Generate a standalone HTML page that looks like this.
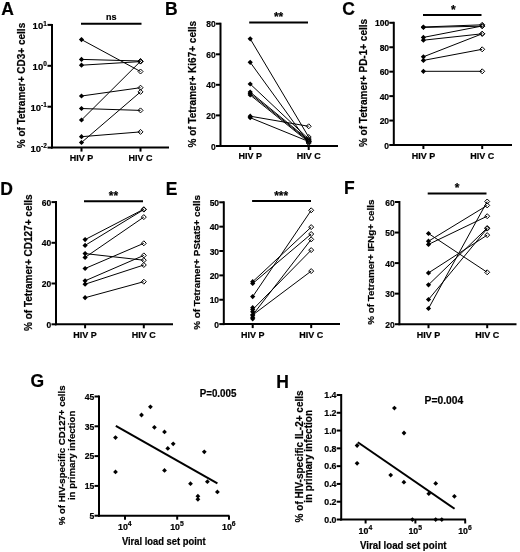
<!DOCTYPE html>
<html><head><meta charset="utf-8"><style>
html,body{margin:0;padding:0;background:#fff;width:520px;height:552px;overflow:hidden}
svg{display:block}
text{font-family:"Liberation Sans", sans-serif;fill:#000;stroke:#000;stroke-width:0.2px}
</style></head><body>
<svg width="520" height="552" viewBox="0 0 520 552" font-family='"Liberation Sans", sans-serif'>
<defs><filter id="bl" filterUnits="userSpaceOnUse" x="0" y="0" width="520" height="552"><feGaussianBlur stdDeviation="0.35"/></filter></defs>
<rect width="520" height="552" fill="#fff"/>
<g filter="url(#bl)">
<line x1="52" y1="23.9" x2="52" y2="148.6" stroke="#000" stroke-width="2" stroke-linecap="butt"/>
<line x1="51" y1="147.6" x2="169" y2="147.6" stroke="#000" stroke-width="2" stroke-linecap="butt"/>
<line x1="47.5" y1="24.9" x2="52" y2="24.9" stroke="#000" stroke-width="2" stroke-linecap="butt"/>
<text x="46.8" y="28.9" font-size="9.5" text-anchor="end" font-weight="bold">10<tspan font-size="6.5" dy="-3.4">1</tspan></text>
<line x1="47.5" y1="65.8" x2="52" y2="65.8" stroke="#000" stroke-width="2" stroke-linecap="butt"/>
<text x="46.8" y="69.8" font-size="9.5" text-anchor="end" font-weight="bold">10<tspan font-size="6.5" dy="-3.4">0</tspan></text>
<line x1="47.5" y1="106.7" x2="52" y2="106.7" stroke="#000" stroke-width="2" stroke-linecap="butt"/>
<text x="46.8" y="110.7" font-size="9.5" text-anchor="end" font-weight="bold">10<tspan font-size="6.5" dy="-3.4">-1</tspan></text>
<line x1="47.5" y1="147.6" x2="52" y2="147.6" stroke="#000" stroke-width="2" stroke-linecap="butt"/>
<text x="46.8" y="151.6" font-size="9.5" text-anchor="end" font-weight="bold">10<tspan font-size="6.5" dy="-3.4">-2</tspan></text>
<line x1="81.5" y1="147.6" x2="81.5" y2="151.6" stroke="#000" stroke-width="2" stroke-linecap="butt"/>
<line x1="140.5" y1="147.6" x2="140.5" y2="151.6" stroke="#000" stroke-width="2" stroke-linecap="butt"/>
<text transform="translate(81.5 160.8) scale(1 1.1)" x="0" y="0" font-size="9" text-anchor="middle" font-weight="bold" >HIV P</text>
<text transform="translate(140.5 160.8) scale(1 1.1)" x="0" y="0" font-size="9" text-anchor="middle" font-weight="bold" >HIV C</text>
<line x1="81" y1="23.8" x2="141.5" y2="23.8" stroke="#000" stroke-width="2" stroke-linecap="butt"/>
<text x="111.25" y="19.8" font-size="9" text-anchor="middle" font-weight="bold" >ns</text>
<line x1="81.5" y1="39.6" x2="140.5" y2="71.5" stroke="#000" stroke-width="1" stroke-linecap="butt"/>
<line x1="81.5" y1="59.4" x2="140.5" y2="61.0" stroke="#000" stroke-width="1" stroke-linecap="butt"/>
<line x1="81.5" y1="65.2" x2="140.5" y2="61.6" stroke="#000" stroke-width="1" stroke-linecap="butt"/>
<line x1="81.5" y1="96.0" x2="140.5" y2="87.7" stroke="#000" stroke-width="1" stroke-linecap="butt"/>
<line x1="81.5" y1="108.5" x2="140.5" y2="110.4" stroke="#000" stroke-width="1" stroke-linecap="butt"/>
<line x1="81.5" y1="120.0" x2="140.5" y2="61.3" stroke="#000" stroke-width="1" stroke-linecap="butt"/>
<line x1="81.5" y1="136.7" x2="140.5" y2="131.9" stroke="#000" stroke-width="1" stroke-linecap="butt"/>
<line x1="81.5" y1="142.5" x2="140.5" y2="91.9" stroke="#000" stroke-width="1" stroke-linecap="butt"/>
<polygon points="140.5,69.0 143.0,71.5 140.5,74.0 138.0,71.5" fill="none" stroke="#000" stroke-width="1.0"/>
<polygon points="140.5,58.5 143.0,61.0 140.5,63.5 138.0,61.0" fill="none" stroke="#000" stroke-width="1.0"/>
<polygon points="140.5,59.1 143.0,61.6 140.5,64.1 138.0,61.6" fill="none" stroke="#000" stroke-width="1.0"/>
<polygon points="140.5,85.2 143.0,87.7 140.5,90.2 138.0,87.7" fill="none" stroke="#000" stroke-width="1.0"/>
<polygon points="140.5,107.9 143.0,110.4 140.5,112.9 138.0,110.4" fill="none" stroke="#000" stroke-width="1.0"/>
<polygon points="140.5,58.8 143.0,61.3 140.5,63.8 138.0,61.3" fill="none" stroke="#000" stroke-width="1.0"/>
<polygon points="140.5,129.4 143.0,131.9 140.5,134.4 138.0,131.9" fill="none" stroke="#000" stroke-width="1.0"/>
<polygon points="140.5,89.4 143.0,91.9 140.5,94.4 138.0,91.9" fill="none" stroke="#000" stroke-width="1.0"/>
<polygon points="81.5,37.0 84.1,39.6 81.5,42.2 78.9,39.6" fill="#000"/>
<polygon points="81.5,56.8 84.1,59.4 81.5,62.0 78.9,59.4" fill="#000"/>
<polygon points="81.5,62.6 84.1,65.2 81.5,67.8 78.9,65.2" fill="#000"/>
<polygon points="81.5,93.4 84.1,96.0 81.5,98.6 78.9,96.0" fill="#000"/>
<polygon points="81.5,105.9 84.1,108.5 81.5,111.1 78.9,108.5" fill="#000"/>
<polygon points="81.5,117.4 84.1,120.0 81.5,122.6 78.9,120.0" fill="#000"/>
<polygon points="81.5,134.1 84.1,136.7 81.5,139.29999999999998 78.9,136.7" fill="#000"/>
<polygon points="81.5,139.9 84.1,142.5 81.5,145.1 78.9,142.5" fill="#000"/>
<text transform="translate(24.6,85.5) rotate(-90)" x="0" y="0" font-size="10.0" text-anchor="middle" font-weight="bold">% of Tetramer+ CD3+ cells</text>
<line x1="220.5" y1="22.7" x2="220.5" y2="147" stroke="#000" stroke-width="2" stroke-linecap="butt"/>
<line x1="219.5" y1="146" x2="338" y2="146" stroke="#000" stroke-width="2" stroke-linecap="butt"/>
<line x1="216.0" y1="23.7" x2="220.5" y2="23.7" stroke="#000" stroke-width="2" stroke-linecap="butt"/>
<text transform="translate(215.8 27.2) scale(1 1.08)" x="0" y="0" font-size="8.5" text-anchor="end" font-weight="bold" >80</text>
<line x1="216.0" y1="54.3" x2="220.5" y2="54.3" stroke="#000" stroke-width="2" stroke-linecap="butt"/>
<text transform="translate(215.8 57.8) scale(1 1.08)" x="0" y="0" font-size="8.5" text-anchor="end" font-weight="bold" >60</text>
<line x1="216.0" y1="84.8" x2="220.5" y2="84.8" stroke="#000" stroke-width="2" stroke-linecap="butt"/>
<text transform="translate(215.8 88.3) scale(1 1.08)" x="0" y="0" font-size="8.5" text-anchor="end" font-weight="bold" >40</text>
<line x1="216.0" y1="115.4" x2="220.5" y2="115.4" stroke="#000" stroke-width="2" stroke-linecap="butt"/>
<text transform="translate(215.8 118.9) scale(1 1.08)" x="0" y="0" font-size="8.5" text-anchor="end" font-weight="bold" >20</text>
<line x1="216.0" y1="146" x2="220.5" y2="146" stroke="#000" stroke-width="2" stroke-linecap="butt"/>
<text transform="translate(215.8 149.5) scale(1 1.08)" x="0" y="0" font-size="8.5" text-anchor="end" font-weight="bold" >0</text>
<line x1="250.2" y1="146" x2="250.2" y2="150" stroke="#000" stroke-width="2" stroke-linecap="butt"/>
<line x1="308.7" y1="146" x2="308.7" y2="150" stroke="#000" stroke-width="2" stroke-linecap="butt"/>
<text transform="translate(250.2 159.3) scale(1 1.1)" x="0" y="0" font-size="9" text-anchor="middle" font-weight="bold" >HIV P</text>
<text transform="translate(308.7 159.3) scale(1 1.1)" x="0" y="0" font-size="9" text-anchor="middle" font-weight="bold" >HIV C</text>
<line x1="249.2" y1="22.4" x2="308" y2="22.4" stroke="#000" stroke-width="2" stroke-linecap="butt"/>
<text x="278.6" y="20.7" font-size="12" text-anchor="middle" font-weight="bold" >**</text>
<line x1="250.2" y1="38.8" x2="308.7" y2="137" stroke="#000" stroke-width="1" stroke-linecap="butt"/>
<line x1="250.2" y1="62.3" x2="308.7" y2="143" stroke="#000" stroke-width="1" stroke-linecap="butt"/>
<line x1="250.2" y1="84.0" x2="308.7" y2="139" stroke="#000" stroke-width="1" stroke-linecap="butt"/>
<line x1="250.2" y1="92.1" x2="308.7" y2="140" stroke="#000" stroke-width="1" stroke-linecap="butt"/>
<line x1="250.2" y1="93.5" x2="308.7" y2="141" stroke="#000" stroke-width="1" stroke-linecap="butt"/>
<line x1="250.2" y1="95" x2="308.7" y2="142" stroke="#000" stroke-width="1" stroke-linecap="butt"/>
<line x1="250.2" y1="116.2" x2="308.7" y2="126.3" stroke="#000" stroke-width="1" stroke-linecap="butt"/>
<line x1="250.2" y1="117.7" x2="308.7" y2="141.5" stroke="#000" stroke-width="1" stroke-linecap="butt"/>
<polygon points="308.7,134.5 311.2,137 308.7,139.5 306.2,137" fill="none" stroke="#000" stroke-width="1.0"/>
<polygon points="308.7,140.5 311.2,143 308.7,145.5 306.2,143" fill="none" stroke="#000" stroke-width="1.0"/>
<polygon points="308.7,136.5 311.2,139 308.7,141.5 306.2,139" fill="none" stroke="#000" stroke-width="1.0"/>
<polygon points="308.7,137.5 311.2,140 308.7,142.5 306.2,140" fill="none" stroke="#000" stroke-width="1.0"/>
<polygon points="308.7,138.5 311.2,141 308.7,143.5 306.2,141" fill="none" stroke="#000" stroke-width="1.0"/>
<polygon points="308.7,139.5 311.2,142 308.7,144.5 306.2,142" fill="none" stroke="#000" stroke-width="1.0"/>
<polygon points="308.7,123.8 311.2,126.3 308.7,128.8 306.2,126.3" fill="none" stroke="#000" stroke-width="1.0"/>
<polygon points="308.7,139.0 311.2,141.5 308.7,144.0 306.2,141.5" fill="none" stroke="#000" stroke-width="1.0"/>
<polygon points="250.2,36.199999999999996 252.79999999999998,38.8 250.2,41.4 247.6,38.8" fill="#000"/>
<polygon points="250.2,59.699999999999996 252.79999999999998,62.3 250.2,64.89999999999999 247.6,62.3" fill="#000"/>
<polygon points="250.2,81.4 252.79999999999998,84.0 250.2,86.6 247.6,84.0" fill="#000"/>
<polygon points="250.2,89.5 252.79999999999998,92.1 250.2,94.69999999999999 247.6,92.1" fill="#000"/>
<polygon points="250.2,90.9 252.79999999999998,93.5 250.2,96.1 247.6,93.5" fill="#000"/>
<polygon points="250.2,92.4 252.79999999999998,95 250.2,97.6 247.6,95" fill="#000"/>
<polygon points="250.2,113.60000000000001 252.79999999999998,116.2 250.2,118.8 247.6,116.2" fill="#000"/>
<polygon points="250.2,115.10000000000001 252.79999999999998,117.7 250.2,120.3 247.6,117.7" fill="#000"/>
<text transform="translate(195.8,84.2) rotate(-90)" x="0" y="0" font-size="10.0" text-anchor="middle" font-weight="bold">% of Tetramer+ Ki67+ cells</text>
<line x1="393.8" y1="21.8" x2="393.8" y2="146" stroke="#000" stroke-width="2" stroke-linecap="butt"/>
<line x1="392.8" y1="145" x2="512" y2="145" stroke="#000" stroke-width="2" stroke-linecap="butt"/>
<line x1="389.3" y1="22.8" x2="393.8" y2="22.8" stroke="#000" stroke-width="2" stroke-linecap="butt"/>
<text transform="translate(389.1 26.3) scale(1 1.08)" x="0" y="0" font-size="8.5" text-anchor="end" font-weight="bold" >100</text>
<line x1="389.3" y1="47.24" x2="393.8" y2="47.24" stroke="#000" stroke-width="2" stroke-linecap="butt"/>
<text transform="translate(389.1 50.74) scale(1 1.08)" x="0" y="0" font-size="8.5" text-anchor="end" font-weight="bold" >80</text>
<line x1="389.3" y1="71.68" x2="393.8" y2="71.68" stroke="#000" stroke-width="2" stroke-linecap="butt"/>
<text transform="translate(389.1 75.18) scale(1 1.08)" x="0" y="0" font-size="8.5" text-anchor="end" font-weight="bold" >60</text>
<line x1="389.3" y1="96.12" x2="393.8" y2="96.12" stroke="#000" stroke-width="2" stroke-linecap="butt"/>
<text transform="translate(389.1 99.62) scale(1 1.08)" x="0" y="0" font-size="8.5" text-anchor="end" font-weight="bold" >40</text>
<line x1="389.3" y1="120.56" x2="393.8" y2="120.56" stroke="#000" stroke-width="2" stroke-linecap="butt"/>
<text transform="translate(389.1 124.06) scale(1 1.08)" x="0" y="0" font-size="8.5" text-anchor="end" font-weight="bold" >20</text>
<line x1="389.3" y1="145.0" x2="393.8" y2="145.0" stroke="#000" stroke-width="2" stroke-linecap="butt"/>
<text transform="translate(389.1 148.5) scale(1 1.08)" x="0" y="0" font-size="8.5" text-anchor="end" font-weight="bold" >0</text>
<line x1="423.4" y1="145" x2="423.4" y2="149" stroke="#000" stroke-width="2" stroke-linecap="butt"/>
<line x1="482.2" y1="145" x2="482.2" y2="149" stroke="#000" stroke-width="2" stroke-linecap="butt"/>
<text transform="translate(423.4 158.8) scale(1 1.1)" x="0" y="0" font-size="9" text-anchor="middle" font-weight="bold" >HIV P</text>
<text transform="translate(482.2 158.8) scale(1 1.1)" x="0" y="0" font-size="9" text-anchor="middle" font-weight="bold" >HIV C</text>
<line x1="423" y1="15" x2="481.5" y2="15" stroke="#000" stroke-width="2" stroke-linecap="butt"/>
<text x="453.4" y="14.2" font-size="12" text-anchor="middle" font-weight="bold" >*</text>
<line x1="423.4" y1="27" x2="482.2" y2="24.8" stroke="#000" stroke-width="1" stroke-linecap="butt"/>
<line x1="423.4" y1="27.4" x2="482.2" y2="26.2" stroke="#000" stroke-width="1" stroke-linecap="butt"/>
<line x1="423.4" y1="37.4" x2="482.2" y2="26" stroke="#000" stroke-width="1" stroke-linecap="butt"/>
<line x1="423.4" y1="40.2" x2="482.2" y2="33.8" stroke="#000" stroke-width="1" stroke-linecap="butt"/>
<line x1="423.4" y1="56.8" x2="482.2" y2="33.8" stroke="#000" stroke-width="1" stroke-linecap="butt"/>
<line x1="423.4" y1="60.4" x2="482.2" y2="49.3" stroke="#000" stroke-width="1" stroke-linecap="butt"/>
<line x1="423.4" y1="71.3" x2="482.2" y2="71.3" stroke="#000" stroke-width="1" stroke-linecap="butt"/>
<polygon points="482.2,22.3 484.7,24.8 482.2,27.3 479.7,24.8" fill="none" stroke="#000" stroke-width="1.0"/>
<polygon points="482.2,23.7 484.7,26.2 482.2,28.7 479.7,26.2" fill="none" stroke="#000" stroke-width="1.0"/>
<polygon points="482.2,23.5 484.7,26 482.2,28.5 479.7,26" fill="none" stroke="#000" stroke-width="1.0"/>
<polygon points="482.2,31.299999999999997 484.7,33.8 482.2,36.3 479.7,33.8" fill="none" stroke="#000" stroke-width="1.0"/>
<polygon points="482.2,31.299999999999997 484.7,33.8 482.2,36.3 479.7,33.8" fill="none" stroke="#000" stroke-width="1.0"/>
<polygon points="482.2,46.8 484.7,49.3 482.2,51.8 479.7,49.3" fill="none" stroke="#000" stroke-width="1.0"/>
<polygon points="482.2,68.8 484.7,71.3 482.2,73.8 479.7,71.3" fill="none" stroke="#000" stroke-width="1.0"/>
<polygon points="423.4,24.4 426.0,27 423.4,29.6 420.79999999999995,27" fill="#000"/>
<polygon points="423.4,24.799999999999997 426.0,27.4 423.4,30.0 420.79999999999995,27.4" fill="#000"/>
<polygon points="423.4,34.8 426.0,37.4 423.4,40.0 420.79999999999995,37.4" fill="#000"/>
<polygon points="423.4,37.6 426.0,40.2 423.4,42.800000000000004 420.79999999999995,40.2" fill="#000"/>
<polygon points="423.4,54.199999999999996 426.0,56.8 423.4,59.4 420.79999999999995,56.8" fill="#000"/>
<polygon points="423.4,57.8 426.0,60.4 423.4,63.0 420.79999999999995,60.4" fill="#000"/>
<polygon points="423.4,68.7 426.0,71.3 423.4,73.89999999999999 420.79999999999995,71.3" fill="#000"/>
<text transform="translate(367.1,83.0) rotate(-90)" x="0" y="0" font-size="10.0" text-anchor="middle" font-weight="bold">% of Tetramer+ PD-1+ cells</text>
<line x1="56" y1="201.1" x2="56" y2="325.3" stroke="#000" stroke-width="2" stroke-linecap="butt"/>
<line x1="55" y1="324.3" x2="173" y2="324.3" stroke="#000" stroke-width="2" stroke-linecap="butt"/>
<line x1="51.5" y1="202.1" x2="56" y2="202.1" stroke="#000" stroke-width="2" stroke-linecap="butt"/>
<text transform="translate(51.3 205.6) scale(1 1.08)" x="0" y="0" font-size="8.5" text-anchor="end" font-weight="bold" >60</text>
<line x1="51.5" y1="242.8" x2="56" y2="242.8" stroke="#000" stroke-width="2" stroke-linecap="butt"/>
<text transform="translate(51.3 246.3) scale(1 1.08)" x="0" y="0" font-size="8.5" text-anchor="end" font-weight="bold" >40</text>
<line x1="51.5" y1="283.5" x2="56" y2="283.5" stroke="#000" stroke-width="2" stroke-linecap="butt"/>
<text transform="translate(51.3 287.0) scale(1 1.08)" x="0" y="0" font-size="8.5" text-anchor="end" font-weight="bold" >20</text>
<line x1="51.5" y1="324.3" x2="56" y2="324.3" stroke="#000" stroke-width="2" stroke-linecap="butt"/>
<text transform="translate(51.3 327.8) scale(1 1.08)" x="0" y="0" font-size="8.5" text-anchor="end" font-weight="bold" >0</text>
<line x1="85.1" y1="324.3" x2="85.1" y2="328.3" stroke="#000" stroke-width="2" stroke-linecap="butt"/>
<line x1="143.8" y1="324.3" x2="143.8" y2="328.3" stroke="#000" stroke-width="2" stroke-linecap="butt"/>
<text transform="translate(85.1 337.5) scale(1 1.1)" x="0" y="0" font-size="9" text-anchor="middle" font-weight="bold" >HIV P</text>
<text transform="translate(143.8 337.5) scale(1 1.1)" x="0" y="0" font-size="9" text-anchor="middle" font-weight="bold" >HIV C</text>
<line x1="84" y1="201.2" x2="143" y2="201.2" stroke="#000" stroke-width="2" stroke-linecap="butt"/>
<text x="113.5" y="200.0" font-size="12" text-anchor="middle" font-weight="bold" >**</text>
<line x1="85.1" y1="239.6" x2="143.8" y2="209.2" stroke="#000" stroke-width="1" stroke-linecap="butt"/>
<line x1="85.1" y1="245.4" x2="143.8" y2="209.6" stroke="#000" stroke-width="1" stroke-linecap="butt"/>
<line x1="85.1" y1="253.6" x2="143.8" y2="260.2" stroke="#000" stroke-width="1" stroke-linecap="butt"/>
<line x1="85.1" y1="257.4" x2="143.8" y2="217.1" stroke="#000" stroke-width="1" stroke-linecap="butt"/>
<line x1="85.1" y1="268.5" x2="143.8" y2="243.3" stroke="#000" stroke-width="1" stroke-linecap="butt"/>
<line x1="85.1" y1="280.8" x2="143.8" y2="255.4" stroke="#000" stroke-width="1" stroke-linecap="butt"/>
<line x1="85.1" y1="284.2" x2="143.8" y2="265" stroke="#000" stroke-width="1" stroke-linecap="butt"/>
<line x1="85.1" y1="297.7" x2="143.8" y2="281.7" stroke="#000" stroke-width="1" stroke-linecap="butt"/>
<polygon points="143.8,206.7 146.3,209.2 143.8,211.7 141.3,209.2" fill="none" stroke="#000" stroke-width="1.0"/>
<polygon points="143.8,207.1 146.3,209.6 143.8,212.1 141.3,209.6" fill="none" stroke="#000" stroke-width="1.0"/>
<polygon points="143.8,257.7 146.3,260.2 143.8,262.7 141.3,260.2" fill="none" stroke="#000" stroke-width="1.0"/>
<polygon points="143.8,214.6 146.3,217.1 143.8,219.6 141.3,217.1" fill="none" stroke="#000" stroke-width="1.0"/>
<polygon points="143.8,240.8 146.3,243.3 143.8,245.8 141.3,243.3" fill="none" stroke="#000" stroke-width="1.0"/>
<polygon points="143.8,252.9 146.3,255.4 143.8,257.9 141.3,255.4" fill="none" stroke="#000" stroke-width="1.0"/>
<polygon points="143.8,262.5 146.3,265 143.8,267.5 141.3,265" fill="none" stroke="#000" stroke-width="1.0"/>
<polygon points="143.8,279.2 146.3,281.7 143.8,284.2 141.3,281.7" fill="none" stroke="#000" stroke-width="1.0"/>
<polygon points="85.1,237.0 87.69999999999999,239.6 85.1,242.2 82.5,239.6" fill="#000"/>
<polygon points="85.1,242.8 87.69999999999999,245.4 85.1,248.0 82.5,245.4" fill="#000"/>
<polygon points="85.1,251.0 87.69999999999999,253.6 85.1,256.2 82.5,253.6" fill="#000"/>
<polygon points="85.1,254.79999999999998 87.69999999999999,257.4 85.1,260.0 82.5,257.4" fill="#000"/>
<polygon points="85.1,265.9 87.69999999999999,268.5 85.1,271.1 82.5,268.5" fill="#000"/>
<polygon points="85.1,278.2 87.69999999999999,280.8 85.1,283.40000000000003 82.5,280.8" fill="#000"/>
<polygon points="85.1,281.59999999999997 87.69999999999999,284.2 85.1,286.8 82.5,284.2" fill="#000"/>
<polygon points="85.1,295.09999999999997 87.69999999999999,297.7 85.1,300.3 82.5,297.7" fill="#000"/>
<text transform="translate(31.6,262.7) rotate(-90)" x="0" y="0" font-size="10.0" text-anchor="middle" font-weight="bold">% of Tetramer+ CD127+ cells</text>
<line x1="223.8" y1="201.3" x2="223.8" y2="325.1" stroke="#000" stroke-width="2" stroke-linecap="butt"/>
<line x1="222.8" y1="324.1" x2="340" y2="324.1" stroke="#000" stroke-width="2" stroke-linecap="butt"/>
<line x1="219.3" y1="202.3" x2="223.8" y2="202.3" stroke="#000" stroke-width="2" stroke-linecap="butt"/>
<text transform="translate(219.10000000000002 205.8) scale(1 1.08)" x="0" y="0" font-size="8.5" text-anchor="end" font-weight="bold" >50</text>
<line x1="219.3" y1="226.66000000000003" x2="223.8" y2="226.66000000000003" stroke="#000" stroke-width="2" stroke-linecap="butt"/>
<text transform="translate(219.10000000000002 230.16000000000003) scale(1 1.08)" x="0" y="0" font-size="8.5" text-anchor="end" font-weight="bold" >40</text>
<line x1="219.3" y1="251.02" x2="223.8" y2="251.02" stroke="#000" stroke-width="2" stroke-linecap="butt"/>
<text transform="translate(219.10000000000002 254.52) scale(1 1.08)" x="0" y="0" font-size="8.5" text-anchor="end" font-weight="bold" >30</text>
<line x1="219.3" y1="275.38" x2="223.8" y2="275.38" stroke="#000" stroke-width="2" stroke-linecap="butt"/>
<text transform="translate(219.10000000000002 278.88) scale(1 1.08)" x="0" y="0" font-size="8.5" text-anchor="end" font-weight="bold" >20</text>
<line x1="219.3" y1="299.74" x2="223.8" y2="299.74" stroke="#000" stroke-width="2" stroke-linecap="butt"/>
<text transform="translate(219.10000000000002 303.24) scale(1 1.08)" x="0" y="0" font-size="8.5" text-anchor="end" font-weight="bold" >10</text>
<line x1="219.3" y1="324.1" x2="223.8" y2="324.1" stroke="#000" stroke-width="2" stroke-linecap="butt"/>
<text transform="translate(219.10000000000002 327.6) scale(1 1.08)" x="0" y="0" font-size="8.5" text-anchor="end" font-weight="bold" >0</text>
<line x1="252.7" y1="324.1" x2="252.7" y2="328.1" stroke="#000" stroke-width="2" stroke-linecap="butt"/>
<line x1="311.2" y1="324.1" x2="311.2" y2="328.1" stroke="#000" stroke-width="2" stroke-linecap="butt"/>
<text transform="translate(252.7 337.5) scale(1 1.1)" x="0" y="0" font-size="9" text-anchor="middle" font-weight="bold" >HIV P</text>
<text transform="translate(311.2 337.5) scale(1 1.1)" x="0" y="0" font-size="9" text-anchor="middle" font-weight="bold" >HIV C</text>
<line x1="252.1" y1="201.1" x2="311" y2="201.1" stroke="#000" stroke-width="2" stroke-linecap="butt"/>
<text x="281.2" y="199.8" font-size="12" text-anchor="middle" font-weight="bold" >***</text>
<line x1="252.7" y1="281.7" x2="311.2" y2="227.1" stroke="#000" stroke-width="1" stroke-linecap="butt"/>
<line x1="252.7" y1="283.5" x2="311.2" y2="234" stroke="#000" stroke-width="1" stroke-linecap="butt"/>
<line x1="252.7" y1="296.6" x2="311.2" y2="210.3" stroke="#000" stroke-width="1" stroke-linecap="butt"/>
<line x1="252.7" y1="309.6" x2="311.2" y2="250.1" stroke="#000" stroke-width="1" stroke-linecap="butt"/>
<line x1="252.7" y1="315" x2="311.2" y2="239.4" stroke="#000" stroke-width="1" stroke-linecap="butt"/>
<line x1="252.7" y1="315" x2="311.2" y2="271.1" stroke="#000" stroke-width="1" stroke-linecap="butt"/>
<polygon points="311.2,224.6 313.7,227.1 311.2,229.6 308.7,227.1" fill="none" stroke="#000" stroke-width="1.0"/>
<polygon points="311.2,231.5 313.7,234 311.2,236.5 308.7,234" fill="none" stroke="#000" stroke-width="1.0"/>
<polygon points="311.2,207.8 313.7,210.3 311.2,212.8 308.7,210.3" fill="none" stroke="#000" stroke-width="1.0"/>
<polygon points="311.2,247.6 313.7,250.1 311.2,252.6 308.7,250.1" fill="none" stroke="#000" stroke-width="1.0"/>
<polygon points="311.2,236.9 313.7,239.4 311.2,241.9 308.7,239.4" fill="none" stroke="#000" stroke-width="1.0"/>
<polygon points="311.2,268.6 313.7,271.1 311.2,273.6 308.7,271.1" fill="none" stroke="#000" stroke-width="1.0"/>
<polygon points="252.7,279.09999999999997 255.29999999999998,281.7 252.7,284.3 250.1,281.7" fill="#000"/>
<polygon points="252.7,280.9 255.29999999999998,283.5 252.7,286.1 250.1,283.5" fill="#000"/>
<polygon points="252.7,294.0 255.29999999999998,296.6 252.7,299.20000000000005 250.1,296.6" fill="#000"/>
<polygon points="252.7,307.0 255.29999999999998,309.6 252.7,312.20000000000005 250.1,309.6" fill="#000"/>
<polygon points="252.7,312.4 255.29999999999998,315 252.7,317.6 250.1,315" fill="#000"/>
<polygon points="252.7,312.4 255.29999999999998,315 252.7,317.6 250.1,315" fill="#000"/>
<text transform="translate(200.0,262.4) rotate(-90)" x="0" y="0" font-size="9.9" text-anchor="middle" font-weight="bold">% of Tetramer+ PStat5+ cells</text>
<polygon points="252.7,305.09999999999997 255.29999999999998,307.7 252.7,310.3 250.1,307.7" fill="#000"/>
<polygon points="252.7,309.2 255.29999999999998,311.8 252.7,314.40000000000003 250.1,311.8" fill="#000"/>
<polygon points="252.7,314.7 255.29999999999998,317.3 252.7,319.90000000000003 250.1,317.3" fill="#000"/>
<polygon points="252.7,316.2 255.29999999999998,318.8 252.7,321.40000000000003 250.1,318.8" fill="#000"/>
<line x1="399.4" y1="201" x2="399.4" y2="325.2" stroke="#000" stroke-width="2" stroke-linecap="butt"/>
<line x1="398.4" y1="324.2" x2="516.5" y2="324.2" stroke="#000" stroke-width="2" stroke-linecap="butt"/>
<line x1="394.9" y1="202.0" x2="399.4" y2="202.0" stroke="#000" stroke-width="2" stroke-linecap="butt"/>
<text transform="translate(394.7 205.5) scale(1 1.08)" x="0" y="0" font-size="8.5" text-anchor="end" font-weight="bold" >60</text>
<line x1="394.9" y1="232.55" x2="399.4" y2="232.55" stroke="#000" stroke-width="2" stroke-linecap="butt"/>
<text transform="translate(394.7 236.05) scale(1 1.08)" x="0" y="0" font-size="8.5" text-anchor="end" font-weight="bold" >50</text>
<line x1="394.9" y1="263.1" x2="399.4" y2="263.1" stroke="#000" stroke-width="2" stroke-linecap="butt"/>
<text transform="translate(394.7 266.6) scale(1 1.08)" x="0" y="0" font-size="8.5" text-anchor="end" font-weight="bold" >40</text>
<line x1="394.9" y1="293.65" x2="399.4" y2="293.65" stroke="#000" stroke-width="2" stroke-linecap="butt"/>
<text transform="translate(394.7 297.15) scale(1 1.08)" x="0" y="0" font-size="8.5" text-anchor="end" font-weight="bold" >30</text>
<line x1="394.9" y1="324.2" x2="399.4" y2="324.2" stroke="#000" stroke-width="2" stroke-linecap="butt"/>
<text transform="translate(394.7 327.7) scale(1 1.08)" x="0" y="0" font-size="8.5" text-anchor="end" font-weight="bold" >20</text>
<line x1="428.5" y1="324.2" x2="428.5" y2="328.2" stroke="#000" stroke-width="2" stroke-linecap="butt"/>
<line x1="487.2" y1="324.2" x2="487.2" y2="328.2" stroke="#000" stroke-width="2" stroke-linecap="butt"/>
<text transform="translate(428.5 337.5) scale(1 1.1)" x="0" y="0" font-size="9" text-anchor="middle" font-weight="bold" >HIV P</text>
<text transform="translate(487.2 337.5) scale(1 1.1)" x="0" y="0" font-size="9" text-anchor="middle" font-weight="bold" >HIV C</text>
<line x1="427.7" y1="193.5" x2="486.5" y2="193.5" stroke="#000" stroke-width="2" stroke-linecap="butt"/>
<text x="457.1" y="191.9" font-size="12" text-anchor="middle" font-weight="bold" >*</text>
<line x1="428.5" y1="233.5" x2="487.2" y2="272.3" stroke="#000" stroke-width="1" stroke-linecap="butt"/>
<line x1="428.5" y1="241.2" x2="487.2" y2="205.4" stroke="#000" stroke-width="1" stroke-linecap="butt"/>
<line x1="428.5" y1="244.4" x2="487.2" y2="216.2" stroke="#000" stroke-width="1" stroke-linecap="butt"/>
<line x1="428.5" y1="272.9" x2="487.2" y2="235.1" stroke="#000" stroke-width="1" stroke-linecap="butt"/>
<line x1="428.5" y1="284.8" x2="487.2" y2="228" stroke="#000" stroke-width="1" stroke-linecap="butt"/>
<line x1="428.5" y1="299.5" x2="487.2" y2="228.6" stroke="#000" stroke-width="1" stroke-linecap="butt"/>
<line x1="428.5" y1="308.5" x2="487.2" y2="201.5" stroke="#000" stroke-width="1" stroke-linecap="butt"/>
<polygon points="487.2,269.8 489.7,272.3 487.2,274.8 484.7,272.3" fill="none" stroke="#000" stroke-width="1.0"/>
<polygon points="487.2,202.9 489.7,205.4 487.2,207.9 484.7,205.4" fill="none" stroke="#000" stroke-width="1.0"/>
<polygon points="487.2,213.7 489.7,216.2 487.2,218.7 484.7,216.2" fill="none" stroke="#000" stroke-width="1.0"/>
<polygon points="487.2,232.6 489.7,235.1 487.2,237.6 484.7,235.1" fill="none" stroke="#000" stroke-width="1.0"/>
<polygon points="487.2,225.5 489.7,228 487.2,230.5 484.7,228" fill="none" stroke="#000" stroke-width="1.0"/>
<polygon points="487.2,226.1 489.7,228.6 487.2,231.1 484.7,228.6" fill="none" stroke="#000" stroke-width="1.0"/>
<polygon points="487.2,199.0 489.7,201.5 487.2,204.0 484.7,201.5" fill="none" stroke="#000" stroke-width="1.0"/>
<polygon points="428.5,230.9 431.1,233.5 428.5,236.1 425.9,233.5" fill="#000"/>
<polygon points="428.5,238.6 431.1,241.2 428.5,243.79999999999998 425.9,241.2" fill="#000"/>
<polygon points="428.5,241.8 431.1,244.4 428.5,247.0 425.9,244.4" fill="#000"/>
<polygon points="428.5,270.29999999999995 431.1,272.9 428.5,275.5 425.9,272.9" fill="#000"/>
<polygon points="428.5,282.2 431.1,284.8 428.5,287.40000000000003 425.9,284.8" fill="#000"/>
<polygon points="428.5,296.9 431.1,299.5 428.5,302.1 425.9,299.5" fill="#000"/>
<polygon points="428.5,305.9 431.1,308.5 428.5,311.1 425.9,308.5" fill="#000"/>
<text transform="translate(374.3,262.15) rotate(-90)" x="0" y="0" font-size="9.82" text-anchor="middle" font-weight="bold">% of Tetramer+ IFNg+ cells</text>
<text x="1.2" y="14.6" font-size="17.5" text-anchor="start" font-weight="bold" >A</text>
<text x="165" y="14.6" font-size="17.5" text-anchor="start" font-weight="bold" >B</text>
<text x="342.2" y="14.6" font-size="17.5" text-anchor="start" font-weight="bold" >C</text>
<text x="0.2" y="194.5" font-size="17.5" text-anchor="start" font-weight="bold" >D</text>
<text x="165.7" y="194.6" font-size="17.5" text-anchor="start" font-weight="bold" >E</text>
<text x="344.1" y="194.2" font-size="17.5" text-anchor="start" font-weight="bold" >F</text>
<text x="30.4" y="387" font-size="17.5" text-anchor="start" font-weight="bold" >G</text>
<text x="276.3" y="387.8" font-size="17.5" text-anchor="start" font-weight="bold" >H</text>
<line x1="99" y1="395.5" x2="99" y2="516.7" stroke="#000" stroke-width="2" stroke-linecap="butt"/>
<line x1="98" y1="515.7" x2="229.5" y2="515.7" stroke="#000" stroke-width="2" stroke-linecap="butt"/>
<line x1="94.5" y1="396.5" x2="99" y2="396.5" stroke="#000" stroke-width="2" stroke-linecap="butt"/>
<text transform="translate(94.3 399.7) scale(1 1.05)" x="0" y="0" font-size="8.6" text-anchor="end" font-weight="bold" >45</text>
<line x1="94.5" y1="426.3" x2="99" y2="426.3" stroke="#000" stroke-width="2" stroke-linecap="butt"/>
<text transform="translate(94.3 429.5) scale(1 1.05)" x="0" y="0" font-size="8.6" text-anchor="end" font-weight="bold" >35</text>
<line x1="94.5" y1="456.1" x2="99" y2="456.1" stroke="#000" stroke-width="2" stroke-linecap="butt"/>
<text transform="translate(94.3 459.3) scale(1 1.05)" x="0" y="0" font-size="8.6" text-anchor="end" font-weight="bold" >25</text>
<line x1="94.5" y1="485.9" x2="99" y2="485.9" stroke="#000" stroke-width="2" stroke-linecap="butt"/>
<text transform="translate(94.3 489.09999999999997) scale(1 1.05)" x="0" y="0" font-size="8.6" text-anchor="end" font-weight="bold" >15</text>
<line x1="94.5" y1="515.7" x2="99" y2="515.7" stroke="#000" stroke-width="2" stroke-linecap="butt"/>
<text transform="translate(94.3 518.9000000000001) scale(1 1.05)" x="0" y="0" font-size="8.6" text-anchor="end" font-weight="bold" >5</text>
<line x1="125" y1="515.7" x2="125" y2="519.7" stroke="#000" stroke-width="2" stroke-linecap="butt"/>
<text x="124.8" y="530" font-size="8.8" text-anchor="middle" font-weight="bold">10<tspan font-size="6.8" dy="-3.6">4</tspan></text>
<line x1="177.2" y1="515.7" x2="177.2" y2="519.7" stroke="#000" stroke-width="2" stroke-linecap="butt"/>
<text x="177.0" y="530" font-size="8.8" text-anchor="middle" font-weight="bold">10<tspan font-size="6.8" dy="-3.6">5</tspan></text>
<line x1="229" y1="515.7" x2="229" y2="519.7" stroke="#000" stroke-width="2" stroke-linecap="butt"/>
<text x="228.8" y="530" font-size="8.8" text-anchor="middle" font-weight="bold">10<tspan font-size="6.8" dy="-3.6">6</tspan></text>
<text transform="translate(163.8 544.6) scale(1 1.08)" x="0" y="0" font-size="9.4" text-anchor="middle" font-weight="bold" >Viral load set point</text>
<text transform="translate(236.4 397.0) scale(1 1.08)" x="0" y="0" font-size="9.8" text-anchor="end" font-weight="bold" >P=0.005</text>
<line x1="115.8" y1="425.8" x2="217.4" y2="483.4" stroke="#000" stroke-width="2" stroke-linecap="butt"/>
<polygon points="115.5,435.20000000000005 117.9,437.6 115.5,440.0 113.1,437.6" fill="#000"/>
<polygon points="115.5,469.5 117.9,471.9 115.5,474.29999999999995 113.1,471.9" fill="#000"/>
<polygon points="141.5,412.6 143.9,415 141.5,417.4 139.1,415" fill="#000"/>
<polygon points="150.4,404.40000000000003 152.8,406.8 150.4,409.2 148.0,406.8" fill="#000"/>
<polygon points="154.4,424.90000000000003 156.8,427.3 154.4,429.7 152.0,427.3" fill="#000"/>
<polygon points="164.5,429.5 166.9,431.9 164.5,434.29999999999995 162.1,431.9" fill="#000"/>
<polygon points="173.2,441.40000000000003 175.6,443.8 173.2,446.2 170.79999999999998,443.8" fill="#000"/>
<polygon points="167.8,446.0 170.20000000000002,448.4 167.8,450.79999999999995 165.4,448.4" fill="#000"/>
<polygon points="164.5,468.0 166.9,470.4 164.5,472.79999999999995 162.1,470.4" fill="#000"/>
<polygon points="204.3,449.40000000000003 206.70000000000002,451.8 204.3,454.2 201.9,451.8" fill="#000"/>
<polygon points="190.5,481.3 192.9,483.7 190.5,486.09999999999997 188.1,483.7" fill="#000"/>
<polygon points="207.4,479.3 209.8,481.7 207.4,484.09999999999997 205.0,481.7" fill="#000"/>
<polygon points="197.9,493.8 200.3,496.2 197.9,498.59999999999997 195.5,496.2" fill="#000"/>
<polygon points="197.9,496.90000000000003 200.3,499.3 197.9,501.7 195.5,499.3" fill="#000"/>
<polygon points="217.4,489.5 219.8,491.9 217.4,494.29999999999995 215.0,491.9" fill="#000"/>
<text transform="translate(65.0,455.4) rotate(-90)" x="0" y="0" font-size="9.65" text-anchor="middle" font-weight="bold">% of HIV-specific CD127+ cells</text>
<text transform="translate(75.3,455.4) rotate(-90)" x="0" y="0" font-size="9.65" text-anchor="middle" font-weight="bold">in primary infection</text>
<line x1="341.2" y1="394" x2="341.2" y2="520.5" stroke="#000" stroke-width="2" stroke-linecap="butt"/>
<line x1="340.2" y1="519.5" x2="466" y2="519.5" stroke="#000" stroke-width="2" stroke-linecap="butt"/>
<line x1="336.7" y1="395.0" x2="341.2" y2="395.0" stroke="#000" stroke-width="2" stroke-linecap="butt"/>
<text transform="translate(336.5 398.2) scale(1 1.05)" x="0" y="0" font-size="8.8" text-anchor="end" font-weight="bold" >1.4</text>
<line x1="336.7" y1="412.786" x2="341.2" y2="412.786" stroke="#000" stroke-width="2" stroke-linecap="butt"/>
<text transform="translate(336.5 415.986) scale(1 1.05)" x="0" y="0" font-size="8.8" text-anchor="end" font-weight="bold" >1.2</text>
<line x1="336.7" y1="430.572" x2="341.2" y2="430.572" stroke="#000" stroke-width="2" stroke-linecap="butt"/>
<text transform="translate(336.5 433.772) scale(1 1.05)" x="0" y="0" font-size="8.8" text-anchor="end" font-weight="bold" >1.0</text>
<line x1="336.7" y1="448.358" x2="341.2" y2="448.358" stroke="#000" stroke-width="2" stroke-linecap="butt"/>
<text transform="translate(336.5 451.558) scale(1 1.05)" x="0" y="0" font-size="8.8" text-anchor="end" font-weight="bold" >0.8</text>
<line x1="336.7" y1="466.144" x2="341.2" y2="466.144" stroke="#000" stroke-width="2" stroke-linecap="butt"/>
<text transform="translate(336.5 469.344) scale(1 1.05)" x="0" y="0" font-size="8.8" text-anchor="end" font-weight="bold" >0.6</text>
<line x1="336.7" y1="483.93" x2="341.2" y2="483.93" stroke="#000" stroke-width="2" stroke-linecap="butt"/>
<text transform="translate(336.5 487.13) scale(1 1.05)" x="0" y="0" font-size="8.8" text-anchor="end" font-weight="bold" >0.4</text>
<line x1="336.7" y1="501.716" x2="341.2" y2="501.716" stroke="#000" stroke-width="2" stroke-linecap="butt"/>
<text transform="translate(336.5 504.916) scale(1 1.05)" x="0" y="0" font-size="8.8" text-anchor="end" font-weight="bold" >0.2</text>
<line x1="336.7" y1="519.502" x2="341.2" y2="519.502" stroke="#000" stroke-width="2" stroke-linecap="butt"/>
<text transform="translate(336.5 522.702) scale(1 1.05)" x="0" y="0" font-size="8.8" text-anchor="end" font-weight="bold" >0.0</text>
<line x1="365.6" y1="519.5" x2="365.6" y2="523.5" stroke="#000" stroke-width="2" stroke-linecap="butt"/>
<text x="365.40000000000003" y="533.8" font-size="8.8" text-anchor="middle" font-weight="bold">10<tspan font-size="6.8" dy="-3.6">4</tspan></text>
<line x1="415.4" y1="519.5" x2="415.4" y2="523.5" stroke="#000" stroke-width="2" stroke-linecap="butt"/>
<text x="415.2" y="533.8" font-size="8.8" text-anchor="middle" font-weight="bold">10<tspan font-size="6.8" dy="-3.6">5</tspan></text>
<line x1="465.2" y1="519.5" x2="465.2" y2="523.5" stroke="#000" stroke-width="2" stroke-linecap="butt"/>
<text x="465.0" y="533.8" font-size="8.8" text-anchor="middle" font-weight="bold">10<tspan font-size="6.8" dy="-3.6">6</tspan></text>
<text transform="translate(403.3 548.6) scale(1 1.08)" x="0" y="0" font-size="9.7" text-anchor="middle" font-weight="bold" >Viral load set point</text>
<text transform="translate(463.2 403.9) scale(1 1.08)" x="0" y="0" font-size="10.3" text-anchor="end" font-weight="bold" >P=0.004</text>
<line x1="357.8" y1="442.2" x2="454.6" y2="508.8" stroke="#000" stroke-width="2" stroke-linecap="butt"/>
<polygon points="394.4,405.70000000000005 396.79999999999995,408.1 394.4,410.5 392.0,408.1" fill="#000"/>
<polygon points="404,430.6 406.4,433 404,435.4 401.6,433" fill="#000"/>
<polygon points="357.1,443.1 359.5,445.5 357.1,447.9 354.70000000000005,445.5" fill="#000"/>
<polygon points="357.1,460.90000000000003 359.5,463.3 357.1,465.7 354.70000000000005,463.3" fill="#000"/>
<polygon points="390.7,472.70000000000005 393.09999999999997,475.1 390.7,477.5 388.3,475.1" fill="#000"/>
<polygon points="403.9,479.8 406.29999999999995,482.2 403.9,484.59999999999997 401.5,482.2" fill="#000"/>
<polygon points="435.7,481.0 438.09999999999997,483.4 435.7,485.79999999999995 433.3,483.4" fill="#000"/>
<polygon points="428.8,491.3 431.2,493.7 428.8,496.09999999999997 426.40000000000003,493.7" fill="#000"/>
<polygon points="454.4,493.90000000000003 456.79999999999995,496.3 454.4,498.7 452.0,496.3" fill="#000"/>
<polygon points="412.4,517.2 414.79999999999995,519.6 412.4,522.0 410.0,519.6" fill="#000"/>
<polygon points="435.7,517.2 438.09999999999997,519.6 435.7,522.0 433.3,519.6" fill="#000"/>
<polygon points="441.8,517.2 444.2,519.6 441.8,522.0 439.40000000000003,519.6" fill="#000"/>
<text transform="translate(302.6,456.4) rotate(-90)" x="0" y="0" font-size="10" text-anchor="middle" font-weight="bold">% of HIV-specific IL-2+ cells</text>
<text transform="translate(312.2,456.4) rotate(-90)" x="0" y="0" font-size="10" text-anchor="middle" font-weight="bold">in primary infection</text>
</g>
</svg>
</body></html>
